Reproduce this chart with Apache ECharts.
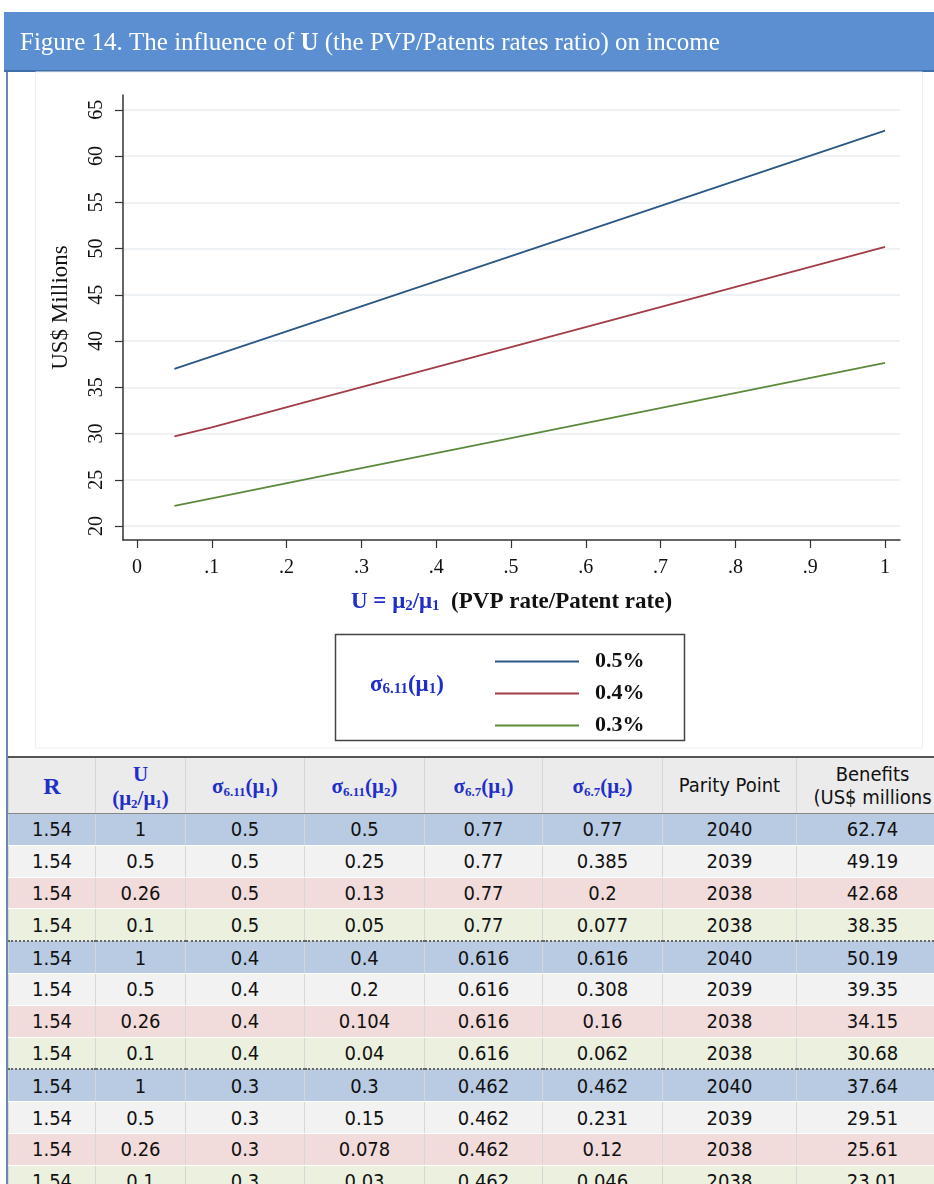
<!DOCTYPE html>
<html>
<head>
<meta charset="utf-8">
<script src="https://cdn.jsdelivr.net/npm/echarts@6/dist/echarts.min.js"></script>
<style>
  html, body { margin: 0; padding: 0; background: #ffffff; width: 934px; height: 1184px; overflow: hidden; position: relative; }
  #chart { position: absolute; left: 0; top: 0; width: 934px; height: 756px; }
  #tablewrap { position: absolute; left: 8px; top: 756px; width: 960px; height: 440px; overflow: hidden; border-top: 2px solid #555; }
  #leftborder { position: absolute; left: 6px; top: 72px; width: 2px; height: 1112px; background: #6b88b0; }
  table { border-collapse: collapse; table-layout: fixed; }
  td, th { padding: 0; text-align: center; vertical-align: middle; border-left: 1px solid #d6d6d6; border-right: 1px solid #d6d6d6; border-bottom: 1px solid #ffffff; }
  th { background: #ebebeb; height: 55px; font-weight: bold; color: #1f2fc8; font-family: "Liberation Serif", serif; font-size: 21px; line-height: 24px; border-bottom: 1px solid #888; }
  th.big { font-size: 24px; }
  th.sans { color: #111; font-weight: normal; font-family: "DejaVu Sans Condensed", "Liberation Sans Narrow", "Liberation Sans", sans-serif; font-size: 20px; font-stretch: condensed; line-height: 23px; }
  td { height: 30.8px; font-family: "DejaVu Sans Condensed", "Liberation Sans Narrow", "Liberation Sans", sans-serif; font-stretch: condensed; font-size: 20px; color: #111; }
  sub { font-size: 13px; vertical-align: -3px; line-height: 0; }
  tr.c0 td { background: #b8cbe3; }
  tr.c1 td { background: #f2f2f2; }
  tr.c2 td { background: #f2dcdb; }
  tr.c3 td { background: #ebf1de; }
  tr.grp td { border-bottom: 2px dotted #666; }
</style>
</head>
<body>
<div id="chart"></div>
<div id="leftborder"></div>
<div id="tablewrap"><table id="tbl"></table></div>
<script>
// ---------- Chart data ----------
const uPoints = [0.05, 0.1, 0.26, 0.5, 1];
const income05 = [37.0, 38.35, 42.68, 49.19, 62.74];
const income04 = [29.7, 30.68, 34.15, 39.35, 50.19];
const income03 = [22.2, 23.01, 25.61, 29.51, 37.64];
const seriesNames = ['0.5%', '0.4%', '0.3%'];
const xTicks = [0, 0.1, 0.2, 0.3, 0.4, 0.5, 0.6, 0.7, 0.8, 0.9, 1];
const yTicks = [20, 25, 30, 35, 40, 45, 50, 55, 60, 65];

// ---------- Table data ----------
const colR = ['1.54','1.54','1.54','1.54','1.54','1.54','1.54','1.54','1.54','1.54','1.54','1.54'];
const colU = ['1','0.5','0.26','0.1','1','0.5','0.26','0.1','1','0.5','0.26','0.1'];
const colS611m1 = ['0.5','0.5','0.5','0.5','0.4','0.4','0.4','0.4','0.3','0.3','0.3','0.3'];
const colS611m2 = ['0.5','0.25','0.13','0.05','0.4','0.2','0.104','0.04','0.3','0.15','0.078','0.03'];
const colS67m1 = ['0.77','0.77','0.77','0.77','0.616','0.616','0.616','0.616','0.462','0.462','0.462','0.462'];
const colS67m2 = ['0.77','0.385','0.2','0.077','0.616','0.308','0.16','0.062','0.462','0.231','0.12','0.046'];
const colParity = ['2040','2039','2038','2038','2040','2039','2038','2038','2040','2039','2038','2038'];
const colBenefits = ['62.74','49.19','42.68','38.35','50.19','39.35','34.15','30.68','37.64','29.51','25.61','23.01'];

const colWidths = [87, 90, 119, 120, 118, 120, 134, 152];
const headers = [
  {html: 'R', cls: 'big'},
  {html: 'U<br>(μ<sub>2</sub>/μ<sub>1</sub>)'},
  {html: 'σ<sub>6.11</sub>(μ<sub>1</sub>)'},
  {html: 'σ<sub>6.11</sub>(μ<sub>2</sub>)'},
  {html: 'σ<sub>6.7</sub>(μ<sub>1</sub>)'},
  {html: 'σ<sub>6.7</sub>(μ<sub>2</sub>)'},
  {html: 'Parity Point', cls: 'sans'},
  {html: 'Benefits<br>(US$ millions', cls: 'sans'}
];

// build table
(function () {
  const tbl = document.getElementById('tbl');
  let h = '<colgroup>' + colWidths.map(w => '<col style="width:' + w + 'px">').join('') + '</colgroup>';
  h += '<tr>' + headers.map(c => '<th' + (c.cls ? ' class="' + c.cls + '"' : '') + '>' + c.html + '</th>').join('') + '</tr>';
  for (let i = 0; i < colR.length; i++) {
    const cls = 'c' + (i % 4) + ((i % 4 === 3 && i < colR.length - 1) ? ' grp' : '');
    const cells = [colR[i], colU[i], colS611m1[i], colS611m2[i], colS67m1[i], colS67m2[i], colParity[i], colBenefits[i]];
    h += '<tr class="' + cls + '">' + cells.map(v => '<td>' + v + '</td>').join('') + '</tr>';
  }
  tbl.innerHTML = h;
  tbl.style.width = colWidths.reduce((a, b) => a + b, 0) + 'px';
})();

// ---------- Chart ----------
const chart = echarts.init(document.getElementById('chart'), null, {renderer: 'canvas'});
const serif = '"Liberation Serif", "Times New Roman", serif';
const blueText = '#1f2fc8';
const lineColors = ['#2b5784', '#a23c46', '#5c8a3c'];
const allSeries = [income05, income04, income03];

const option = {
  animation: false,
  backgroundColor: '#ffffff',
  graphic: [
    {type: 'rect', z: -1, shape: {x: 4, y: 12, width: 940, height: 60}, style: {fill: '#5b8fd2'}},
    {type: 'rect', z: -1, shape: {x: 4, y: 70, width: 940, height: 2}, style: {fill: '#3f6ea8'}},
    {type: 'rect', z: -1, shape: {x: 35.5, y: 72, width: 887, height: 676}, style: {fill: 'none', stroke: '#edf0f2', lineWidth: 1}},
    {type: 'text', left: 20, top: 31, style: {
      rich: {
        n: {fill: '#ffffff', font: '25px ' + serif},
        b: {fill: '#ffffff', font: 'bold 25px ' + serif}
      },
      text: '{n|Figure 14. The influence of }{b|U}{n| (the PVP/Patents rates ratio) on income}'
    }},
    {type: 'rect', shape: {x: 335.5, y: 634.5, width: 349, height: 106}, style: {fill: '#ffffff', stroke: '#444444', lineWidth: 1.5}, z: 1},
    {type: 'text', left: 370, top: 674, z: 2, style: {
      rich: {
        m: {fill: blueText, font: 'bold 23px ' + serif},
        s: {fill: blueText, font: 'bold 15px ' + serif, padding: [8, 0, 0, 0]}
      },
      text: '{m|σ}{s|6.11}{m|(μ}{s|1}{m|)}'
    }}
  ],
  grid: {left: 123, right: 34, top: 95, bottom: 216, containLabel: false},
  legend: {
    orient: 'vertical',
    left: 490,
    top: 645,
    icon: 'rect',
    itemWidth: 84,
    itemHeight: 2,
    itemGap: 9,
    z: 3,
    data: seriesNames,
    textStyle: {fontFamily: serif, fontWeight: 'bold', fontSize: 22, lineHeight: 23, color: '#111', padding: [0, 0, 0, 11]}
  },
  xAxis: {
    type: 'value',
    min: -0.0187,
    max: 1.02,
    name: '{b|U = μ}{s|2}{b|/μ}{s|1}{k|  (PVP rate/Patent rate)}',
    nameLocation: 'middle',
    nameGap: 51,
    nameTextStyle: {
      rich: {
        b: {color: blueText, fontFamily: serif, fontWeight: 'bold', fontSize: 23},
        s: {color: blueText, fontFamily: serif, fontWeight: 'bold', fontSize: 15, padding: [7, 0, 0, 0]},
        k: {color: '#111', fontFamily: serif, fontWeight: 'bold', fontSize: 23}
      }
    },
    axisLine: {show: true, onZero: false, lineStyle: {color: '#333', width: 1.5}},
    axisTick: {show: true, length: 8, customValues: xTicks, lineStyle: {color: '#333', width: 1.2}},
    axisLabel: {
      customValues: xTicks,
      margin: 18,
      fontFamily: serif, fontSize: 20, color: '#111',
      formatter: function (v) {
        if (Math.abs(v) < 1e-9) return '0';
        if (Math.abs(v - 1) < 1e-9) return '1';
        return '.' + Math.round(v * 10);
      }
    },
    splitLine: {show: false}
  },
  yAxis: {
    type: 'value',
    min: 18.5,
    max: 66.6,
    name: 'US$ Millions',
    nameLocation: 'middle',
    nameRotate: 90,
    nameGap: 51,
    nameTextStyle: {fontFamily: serif, fontSize: 23, color: '#111', padding: [0, 0, 0, 20]},
    axisLine: {show: true, onZero: false, lineStyle: {color: '#333', width: 1.5}},
    axisTick: {show: true, length: 8, customValues: yTicks, lineStyle: {color: '#333', width: 1.2}},
    axisLabel: {customValues: yTicks, rotate: 90, margin: 16, fontFamily: serif, fontSize: 20, color: '#111'},
    splitLine: {show: true, lineStyle: {color: '#e8eef2', width: 1.5}}
  },
  series: seriesNames.map((n, i) => ({
    name: n,
    type: 'line',
    symbol: 'none',
    smooth: false,
    data: uPoints.map((u, j) => [u, allSeries[i][j]]),
    lineStyle: {color: lineColors[i], width: 1.8},
    itemStyle: {color: lineColors[i]}
  }))
};
chart.setOption(option);
</script>
</body>
</html>
